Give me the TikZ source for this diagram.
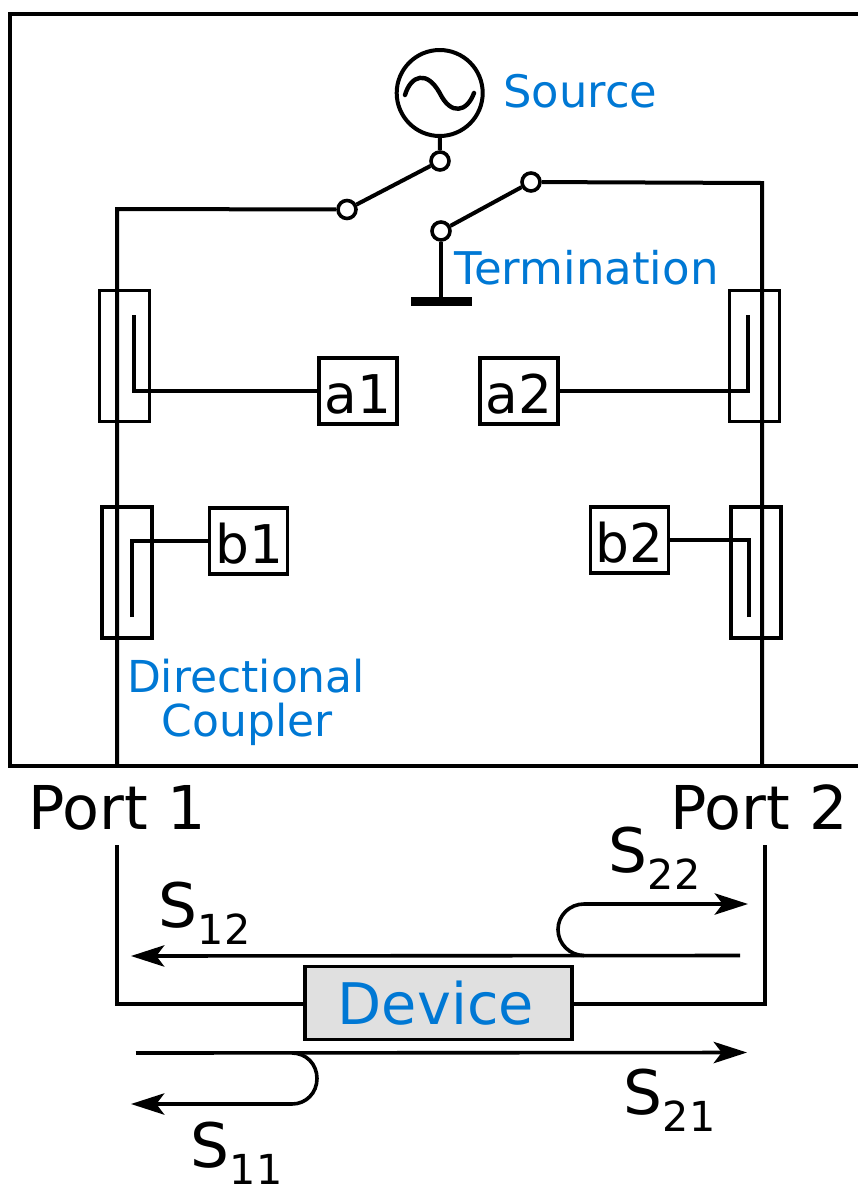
\documentclass[tikz,border=0pt]{standalone}
\usepackage{fontspec}
\setmainfont{DejaVu Sans}
\usetikzlibrary{arrows.meta}
\definecolor{lblue}{RGB}{0,120,212}
\newcommand{\fs}[1]{\fontsize{#1}{#1}\selectfont}
\newcommand{\Sp}[1]{S\kern0.5pt\raisebox{-13pt}{\fs{31}#1}}
\tikzset{
  wire/.style={draw=black,line width=3pt},
  thin wire/.style={draw=black,line width=2.8pt},
  coupler/.style={draw=black,line width=2.7pt,line join=miter,inner sep=0pt,minimum width=37.5pt,minimum height=98pt},
  meas/.style={draw=black,line width=2.7pt,fill=white,inner sep=0pt,minimum width=58.5pt,minimum height=49.5pt,text height=33pt,text depth=0pt,font=\fs{40}},
  term/.style={draw=black,line width=2.7pt,fill=white,circle,inner sep=0pt,minimum size=13.5pt},
  lbl/.style={text=lblue,inner sep=0pt,font=\fs{33.6}},
  port/.style={text=black,inner sep=0pt,font=\fs{45.3}},
  sparam/.style={text=black,inner sep=0pt,font=\fs{46}},
  sig/.style={draw=black,line width=2.7pt,-{Stealth[length=25pt,width=16pt,inset=6pt]}},
}
\begin{document}
\begin{tikzpicture}[x=0.75pt,y=-0.75pt]
\useasboundingbox (0,0) rectangle (858,1186);
% frame
\coordinate (ftl) at (10,14); \coordinate (ftr) at (858,14);
\coordinate (fbl) at (10,766); \coordinate (fbr) at (858,766);
\draw[wire] (ftr) -- (ftl) -- (fbl) -- (fbr);
% couplers
\node[coupler] (c1) at (124.5,356) {};
\node[coupler] (c2) at (127,572.5) {};
\node[coupler] (c3) at (754.5,356) {};
\node[coupler] (c4) at (756,572.5) {};
% measurement boxes
\node[meas] (a1) at (358,391) {a1};
\node[meas] (a2) at (519,391) {a2};
\node[meas] (b1) at (248.5,541) {\hspace{2pt}b1};
\node[meas] (b2) at (629.5,540) {b2};
% source
\node[draw=black,line width=3pt,circle,minimum size=64.5pt,inner sep=0pt] (src) at (439.7,93) {};
\draw[line width=3.3pt,line cap=round] (405,95) .. controls (411,75) and (427,70) .. (439.7,93) .. controls (451,116) and (467,112) .. (474,93);
\node[term] (s1) at (440,161) {};
\node[term] (s2) at (347,209.5) {};
\node[term] (s3) at (531,182) {};
\node[term] (s4) at (441,231) {};
\draw[wire] (src) -- (s1);
\draw[wire] (s1) -- (s2);
\draw[wire] (s3) -- (s4);
% ground
\coordinate (gnd) at (441,301);
\draw[wire] (s4) -- (gnd);
\draw[line width=7pt] (411,301.5) -- (472,301.5);
% main lines
\coordinate (l1) at (117,209); \coordinate (l2) at (117,766);
\coordinate (r1) at (762,183); \coordinate (r2) at (762,766);
\draw[wire] (s2) -- (l1) -- (l2);
\draw[wire] (s3) -- (r1) -- (r2);
% coupled lines
\coordinate (ca1) at (134,315); \coordinate (ca2) at (134,391);
\draw[thin wire] (ca1) -- (ca2) -- (a1);
\coordinate (ca3) at (748,315); \coordinate (ca4) at (748,391);
\draw[thin wire] (ca3) -- (ca4) -- (a2);
\coordinate (cb1) at (132,617); \coordinate (cb2) at (132,541);
\draw[thin wire] (cb1) -- (cb2) -- (b1);
\coordinate (cb3) at (749,617); \coordinate (cb4) at (749,540);
\draw[thin wire] (cb3) -- (cb4) -- (b2);
% labels
\node[lbl,anchor=base west] (lsrc) at (503,107) {Source};
\node[lbl,anchor=base west,font=\fs{33.8}] (lterm) at (454,284) {Termination};
\node[lbl,anchor=base,font=\fs{33}] (ldc1) at (246,692) {Directional};
\node[lbl,anchor=base,font=\fs{33}] (ldc2) at (247,736) {Coupler};
\node[port,anchor=base west] (p1) at (28,829) {Port 1};
\node[port,anchor=base west] (p2) at (670,829) {Port 2};
% device
\node[draw=black,line width=2.7pt,fill=black!12,minimum width=200.5pt,minimum height=55pt,inner sep=0pt,text=lblue,font=\fs{43},text height=32pt,text depth=0pt] (dev) at (438.5,1003) {\kern-2pt Device\kern2pt};
\coordinate (d1) at (117,845); \coordinate (d2) at (117,1004);
\coordinate (d3) at (765,845); \coordinate (d4) at (765,1004);
\draw[wire] (d1) -- (d2) -- (d2 -| dev.west);
\draw[wire] (d3) -- (d4) -- (d4 -| dev.east);
% signals
\coordinate (s12a) at (740,955.5); \coordinate (s12b) at (131,956);
\draw[sig] (s12a) -- (s12b);
\coordinate (s22c) at (748,904);
\draw[sig] (584,955.5) .. controls (570,955.5) and (558,944) .. (558,929.5) .. controls (558,915) and (570,904) .. (584,904) -- (s22c);
\coordinate (s21a) at (136,1053); \coordinate (s21b) at (747,1052.5);
\draw[sig] (s21a) -- (s21b);
\coordinate (s11c) at (131,1104);
\draw[sig] (292,1053) .. controls (306,1053) and (317,1064) .. (317,1078.5) .. controls (317,1093) and (306,1104) .. (292,1104) -- (s11c);
% S labels
\node[sparam,anchor=base west] (l22) at (608,872) {\Sp{22}};
\node[sparam,anchor=base west] (l12) at (158,927) {\Sp{12}};
\node[sparam,anchor=base west] (l21) at (623,1114) {\Sp{21}};
\node[sparam,anchor=base west] (l11) at (190,1167) {\Sp{11}};
\end{tikzpicture}
\end{document}
